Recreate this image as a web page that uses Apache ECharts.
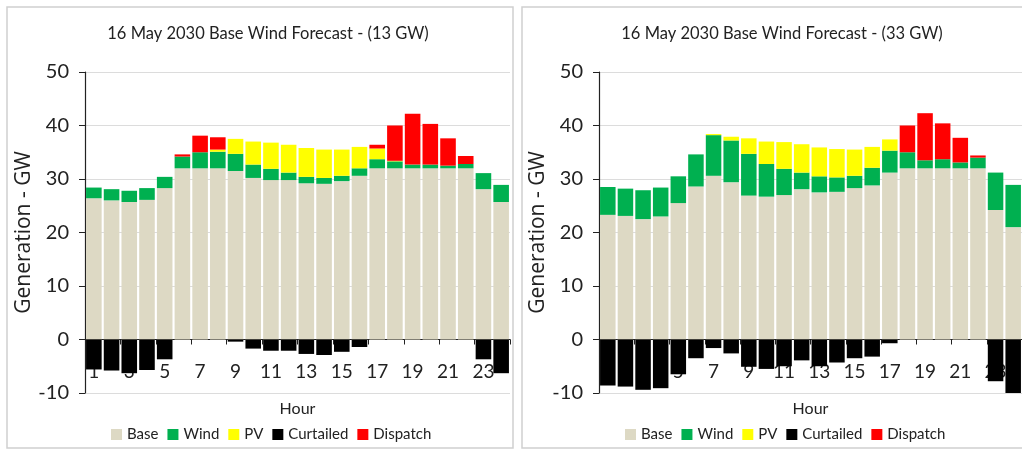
<!DOCTYPE html>
<html>
<head>
<meta charset="utf-8">
<script src="https://cdn.jsdelivr.net/npm/echarts/dist/echarts.min.js"></script>
<style>
html,body{margin:0;padding:0;background:#fff;}
#chart{width:1022px;height:454px;}
</style>
</head>
<body>
<div id="chart"></div>
<script>
var hours = ['1','2','3','4','5','6','7','8','9','10','11','12','13','14','15','16','17','18','19','20','21','22','23','24'];
var yTicks = [-10, 0, 10, 20, 30, 40, 50];

// 13 GW panel
var base13 = [26.4,26.0,25.7,26.1,28.3,32.0,32.0,32.0,31.5,30.2,29.8,29.8,29.2,29.1,29.6,30.6,32.0,32.0,32.0,32.0,32.0,32.0,28.1,25.7];
var wind13 = [2.0,2.1,2.1,2.2,2.1,2.2,3.0,3.1,3.2,2.5,2.1,1.4,1.2,1.1,1.0,1.4,1.7,1.3,0.7,0.7,0.5,0.8,3.0,3.2];
var pv13 = [0,0,0,0,0,0,0,0.4,2.8,4.3,4.9,5.2,5.4,5.3,4.9,4.0,2.0,0.1,0,0,0,0,0,0];
var curt13 = [-5.6,-5.8,-6.3,-5.7,-3.7,0,0,0,-0.4,-1.7,-2.1,-2.1,-2.7,-2.9,-2.3,-1.4,0,0,0,0,0,0,-3.7,-6.3];
var disp13 = [0,0,0,0,0,0.4,3.1,2.3,0,0,0,0,0,0,0,0,0.7,6.6,9.5,7.6,5.1,1.5,0,0];

// 33 GW panel
var base33 = [23.3,23.1,22.5,23.0,25.5,28.6,30.6,29.4,26.9,26.7,27.0,28.1,27.5,27.6,28.3,28.8,31.2,32.0,32.0,32.0,32.0,32.0,24.2,21.0];
var wind33 = [5.2,5.1,5.4,5.4,5.0,6.0,7.6,7.8,7.8,6.1,4.9,3.1,3.0,2.7,2.3,3.3,4.1,3.0,1.5,1.7,1.1,2.0,7.0,7.9];
var pv33 = [0,0,0,0,0,0,0.2,0.7,2.9,4.2,5.0,5.3,5.4,5.3,4.9,3.9,2.1,0,0,0,0,0,0,0];
var curt33 = [-8.6,-8.8,-9.4,-9.1,-6.5,-3.5,-1.6,-2.6,-5.1,-5.5,-5.0,-3.9,-5.0,-4.3,-3.5,-3.2,-0.7,0,0,0,0,0,-7.8,-10.0];
var disp33 = [0,0,0,0,0,0,0,0,0,0,0,0,0,0,0,0,0,5.0,8.8,6.7,4.6,0.4,0,0];

var names = ['Base','Wind','PV','Curtailed','Dispatch'];
var colors = ['#DDD9C4','#00B050','#FFFF00','#000000','#FF0000'];
var font = 'Lato';

function xAx(idx){
    return {
        type:'category', gridIndex:idx, data:hours,
        name:'Hour', nameLocation:'middle', nameGap:8,
        nameTextStyle:{fontFamily:font, fontSize:16, color:'#222'},
        axisLine:{onZero:true, lineStyle:{color:'#222', width:1.2}},
        axisTick:{show:true, length:5, lineStyle:{color:'#222'}},
        axisLabel:{interval:1, margin:-31, fontFamily:font, fontSize:19, color:'#222'},
        splitLine:{show:false}
    };
}
function yAx(idx){
    return {
        type:'value', gridIndex:idx, min:yTicks[0], max:yTicks[yTicks.length-1], interval:10,
        name:'Generation - GW', nameLocation:'middle', nameGap:34,
        nameTextStyle:{fontFamily:'Open Sans', fontSize:21, color:'#222'},
        axisLine:{show:true, lineStyle:{color:'#222', width:1.2}},
        axisTick:{show:true, length:6, lineStyle:{color:'#222'}},
        axisLabel:{margin:16, fontFamily:font, fontSize:20, color:'#222'},
        splitLine:{lineStyle:{color:'#DCDCDC'}}
    };
}
function mk(idx, arrs){
    return arrs.map(function(d, i){
        return {
            name:names[i], type:'bar', stack:'s'+idx,
            xAxisIndex:idx, yAxisIndex:idx,
            barCategoryGap:'12%',
            itemStyle:{color:colors[i]},
            data:d
        };
    });
}

var myChart = echarts.init(document.getElementById('chart'));
myChart.setOption({
    animation:false,
    color:colors,
    title:[
        {text:'16 May 2030 Base Wind Forecast - (13 GW)', left:263, top:20, textAlign:'center',
         textStyle:{fontFamily:font, fontSize:16.5, fontWeight:'normal', color:'#222'}},
        {text:'16 May 2030 Base Wind Forecast - (33 GW)', left:777, top:20, textAlign:'center',
         textStyle:{fontFamily:font, fontSize:16.5, fontWeight:'normal', color:'#222'}}
    ],
    legend:[
        {data:names, left:106, top:422, itemWidth:11, itemHeight:11, itemGap:9, icon:'rect',
         textStyle:{fontFamily:font, fontSize:15, color:'#222'}},
        {data:names, left:620, top:422, itemWidth:11, itemHeight:11, itemGap:9, icon:'rect',
         textStyle:{fontFamily:font, fontSize:15, color:'#222'}}
    ],
    grid:[
        {left:85, top:72, width:425, height:321, outerBoundsMode:'none'},
        {left:599, top:72, width:423, height:321, outerBoundsMode:'none'}
    ],
    xAxis:[xAx(0), xAx(1)],
    yAxis:[yAx(0), yAx(1)],
    graphic:[
        {type:'rect', shape:{x:7, y:7, width:506, height:441}, style:{fill:'none', stroke:'#D0D0D0', lineWidth:1.5}, z:-1},
        {type:'rect', shape:{x:522, y:7, width:510, height:441}, style:{fill:'none', stroke:'#D0D0D0', lineWidth:1.5}, z:-1}
    ],
    series:mk(0,[base13,wind13,pv13,curt13,disp13]).concat(mk(1,[base33,wind33,pv33,curt33,disp33]))
});
</script>
</body>
</html>
